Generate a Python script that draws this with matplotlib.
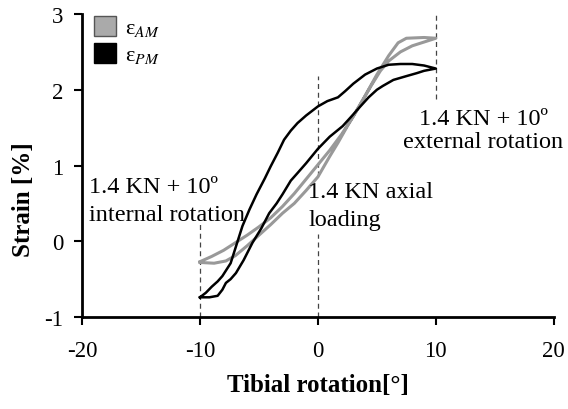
import matplotlib
matplotlib.use("Agg")
import matplotlib.pyplot as plt
from matplotlib.patches import Patch

plt.rcParams['font.family'] = ['Liberation Serif', 'DejaVu Serif']
plt.rcParams['mathtext.fontset'] = 'stix'
plt.rcParams['axes.unicode_minus'] = False

# eps_AM loop (grey), traced round from -10 deg
am_x = [-10, -9, -8, -7, -6, -5, -4, -3, -2, -1, 0, 1, 2, 3, 4, 5, 6, 6.8, 7.5, 9, 10,
        9, 8, 7, 6, 5.3, 4.5, 3.5, 2.5, 1.7, 1, 0, -1, -2, -3, -4, -5, -6, -7, -7.8, -8.8, -10]
am_y = [-0.27, -0.2, -0.12, -0.02, 0.08, 0.19, 0.31, 0.46, 0.63, 0.82, 1.01, 1.2, 1.41, 1.65, 1.92, 2.2, 2.45, 2.62, 2.68, 2.69, 2.68,
        2.63, 2.58, 2.5, 2.38, 2.25, 2.05, 1.78, 1.52, 1.3, 1.12, 0.85, 0.67, 0.5, 0.37, 0.22, 0.08, -0.06, -0.19, -0.26, -0.29, -0.28]

# eps_PM loop (black)
pm_x = [-10, -9.5, -9, -8.5, -8.1, -7.4, -6.95, -6.4, -5.8, -5.2, -4.5, -4, -3.4, -2.87, -2.3, -1.73, -1, 0,
        0.8, 1.7, 2.3, 3, 4, 5, 6, 7, 8, 9, 10,
        9, 8.4, 7.5, 6.4, 5.5, 5, 4.3, 3.6, 2.8, 2.1, 1, 0, -1, -1.73, -2.3, -3, -3.5, -4.13, -4.8, -5.55,
        -6.3, -6.95, -7.4, -7.8, -8.1, -8.5, -9.2, -10]
pm_y = [-0.74, -0.68, -0.6, -0.53, -0.46, -0.29, -0.07, 0.2, 0.42, 0.62, 0.83, 0.99, 1.17, 1.34, 1.46, 1.56, 1.66, 1.78,
        1.85, 1.9, 1.98, 2.08, 2.2, 2.28, 2.33, 2.34, 2.34, 2.32, 2.28,
        2.25, 2.22, 2.18, 2.13, 2.05, 2.0, 1.9, 1.78, 1.64, 1.52, 1.38, 1.22, 1.03, 0.9, 0.8, 0.62, 0.5, 0.37, 0.17, -0.02,
        -0.25, -0.42, -0.5, -0.55, -0.64, -0.72, -0.74, -0.74]

fig = plt.figure(figsize=(5.68, 4.10), dpi=100)
ax = fig.add_axes([0.1444, 0.2244, 0.8306, 0.739])

ax.plot(am_x, am_y, color='#999999', lw=2.2, zorder=3)
ax.plot(pm_x, pm_y, color='black', lw=1.8, zorder=4)

# dashed markers for load steps
dash = dict(ls=(0, (4, 3)), color='#444444', lw=0.9)
ax.plot([-10, -10], [-1, 0.23], **dash)
ax.plot([0, 0], [-1, 0.1], **dash)
ax.plot([0, 0], [0.86, 2.18], **dash)
ax.plot([10, 10], [1.88, 3.0], **dash)

fs = 17.5
ax.text(-19.4, 0.65, '1.4 KN + 10º', fontsize=fs, va='baseline', ha='left')
ax.text(-19.4, 0.28, 'internal rotation', fontsize=fs, va='baseline', ha='left')
ax.text(-0.8, 0.59, '1.4 KN axial', fontsize=fs, va='baseline', ha='left')
ax.text(-0.8, 0.21, 'loading', fontsize=fs, va='baseline', ha='left')
ax.text(14.0, 1.55, '1.4 KN + 10º', fontsize=fs, va='baseline', ha='center')
ax.text(14.0, 1.25, 'external rotation', fontsize=fs, va='baseline', ha='center')

ax.set_xlim(-20, 20)
ax.set_ylim(-1, 3)
ax.set_xticks([-20, -10, 0, 10, 20])
ax.set_yticks([-1, 0, 1, 2, 3])
ax.tick_params(labelsize=16.5, width=1.5, length=5.5, direction='out')
ax.tick_params(axis='y', pad=8)
ax.tick_params(axis='x', pad=11)
for s in ['top', 'right']:
    ax.spines[s].set_visible(False)
for s in ['left', 'bottom']:
    ax.spines[s].set_linewidth(2)

ax.set_xlabel('Tibial rotation[°]', fontsize=18, fontweight='bold', labelpad=9)
ax.set_ylabel('Strain [%]', fontsize=18, fontweight='bold')
ax.yaxis.set_label_coords(-0.10, 0.39)

handles = [Patch(facecolor='#aaaaaa', edgecolor='#555555', lw=1),
           Patch(facecolor='black', edgecolor='black', lw=1)]
ax.legend(handles, ['ε$_{AM}$', 'ε$_{PM}$'], loc='upper left', bbox_to_anchor=(-0.018, 1.06),
          frameon=False, fontsize=16, handlelength=1.0, handleheight=1.0,
          handletextpad=0.4, labelspacing=0.2)

fig.savefig('out.png', dpi=100)
